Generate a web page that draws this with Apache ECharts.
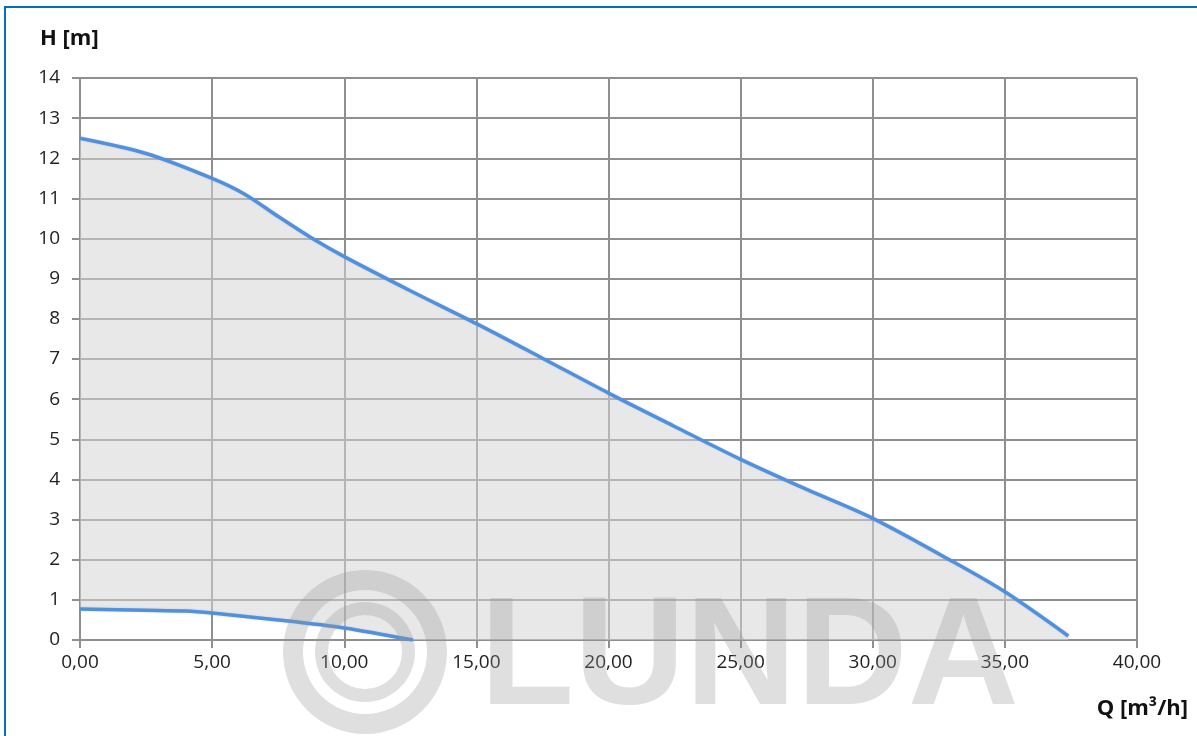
<!DOCTYPE html>
<html>
<head>
<meta charset="utf-8">
<script src="https://cdn.jsdelivr.net/npm/echarts@6/dist/echarts.min.js"></script>
<style>
  html, body { margin: 0; padding: 0; background: #fff; overflow: hidden; }
  #chart { width: 1197px; height: 736px; }
</style>
</head>
<body>
<div id="chart"></div>
<script>
// pump curve, Q [m3/h] -> H [m]
const upperCurve = [
  [0, 12.5], [2.5, 12.12], [5, 11.5], [6.25, 11.1], [7.5, 10.55], [8.75, 10.02],
  [10, 9.55], [12.5, 8.7], [15, 7.88], [17.5, 7.02], [20, 6.15], [22.5, 5.32],
  [25, 4.5], [27.5, 3.75], [30, 3.03], [32.9, 2.0], [35, 1.2], [37.4, 0.1]
];
const lowerCurve = [
  [0, 0.77], [2.5, 0.74], [4, 0.72], [5, 0.67], [7.5, 0.5], [10, 0.3], [12.6, 0.0]
];
const xTicks = [0, 5, 10, 15, 20, 25, 30, 35, 40];
const yTicks = [0, 1, 2, 3, 4, 5, 6, 7, 8, 9, 10, 11, 12, 13, 14];

const gridColor = '#8f8f8f';
const lineColor = '#5290dc';
const markColor = 'rgba(150,150,150,0.3)';
const font = "'Open Sans', 'Liberation Sans', sans-serif";

let myChart = echarts.init(document.getElementById('chart'));

myChart.setOption({
  animation: false,
  grid: { left: 80, top: 78, width: 1057, height: 562 },
  xAxis: {
    type: 'value',
    min: xTicks[0],
    max: xTicks[xTicks.length - 1],
    interval: 5,
    axisLine: { show: true, onZero: false, lineStyle: { color: gridColor, width: 2 } },
    axisTick: { show: true, length: 8, lineStyle: { color: gridColor, width: 2 } },
    splitLine: { show: true, lineStyle: { color: gridColor, width: 2 } },
    axisLabel: {
      margin: 13,
      color: '#222',
      fontFamily: font,
      fontSize: 19,
      formatter: v => v.toFixed(2).replace('.', ',')
    }
  },
  yAxis: {
    type: 'value',
    min: yTicks[0],
    max: yTicks[yTicks.length - 1],
    interval: 1,
    axisLine: { show: true, lineStyle: { color: gridColor, width: 2 } },
    axisTick: { show: true, length: 8, lineStyle: { color: gridColor, width: 2 } },
    splitLine: { show: true, lineStyle: { color: gridColor, width: 2 } },
    axisLabel: { margin: 20, color: '#222', fontFamily: font, fontSize: 19 }
  },
  series: [
    {
      // grey area between the two curves
      type: 'custom',
      data: [[0, 0]],
      z: 1,
      renderItem: function (params, api) {
        let pts = [];
        upperCurve.forEach(p => pts.push(api.coord(p)));
        pts.push(api.coord([upperCurve[upperCurve.length - 1][0], 0]));
        for (let i = lowerCurve.length - 1; i >= 0; i--) {
          pts.push(api.coord(lowerCurve[i]));
        }
        return {
          type: 'polygon',
          shape: { points: pts },
          style: { fill: 'rgba(214,214,214,0.55)', stroke: null }
        };
      }
    },
    {
      type: 'line',
      data: upperCurve,
      smooth: 0.3,
      showSymbol: false,
      z: 3,
      lineStyle: { color: lineColor, width: 3.5, shadowColor: 'rgba(82,144,220,0.35)', shadowBlur: 2 }
    },
    {
      type: 'line',
      data: lowerCurve,
      smooth: 0.3,
      showSymbol: false,
      z: 3,
      lineStyle: { color: lineColor, width: 3.5, shadowColor: 'rgba(82,144,220,0.35)', shadowBlur: 2 }
    }
  ],
  graphic: [
    {
      type: 'rect',
      z: 100,
      shape: { x: 5, y: 7, width: 1400, height: 1000 },
      style: { fill: null, stroke: '#0070c0', lineWidth: 2 }
    },
    {
      type: 'text',
      left: 40,
      top: 28,
      style: { text: 'H [m]', font: "bold 22px " + font, fill: '#111' }
    },
    {
      type: 'text',
      right: 9,
      top: 698,
      style: { text: 'Q [m³/h]', font: "bold 22px " + font, fill: '#111' }
    },
    // watermark
    {
      type: 'ring',
      z: 50,
      silent: true,
      shape: { cx: 365, cy: 652, r: 82, r0: 62 },
      style: { fill: markColor }
    },
    {
      type: 'ring',
      z: 50,
      silent: true,
      shape: { cx: 365, cy: 652, r: 50, r0: 37 },
      style: { fill: markColor }
    },
    {
      type: 'text',
      z: 50,
      silent: true,
      x: 480,
      y: 662,
      style: {
        text: 'LUNDA',
        font: "bold 154px 'Liberation Sans', sans-serif",
        fill: markColor,
        verticalAlign: 'middle'
      }
    }
  ]
});
</script>
</body>
</html>
